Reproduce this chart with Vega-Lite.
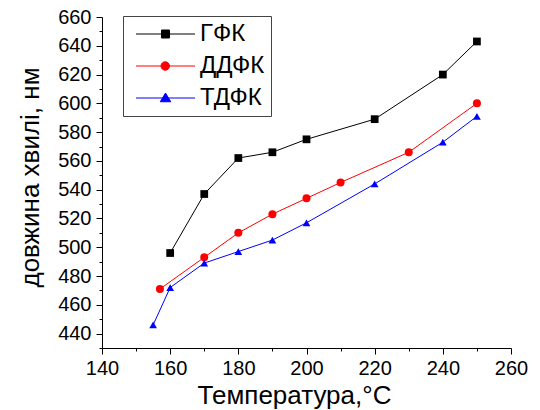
{
  "$schema": "https://vega.github.io/schema/vega-lite/v6.json",
  "autosize": "none",
  "width": 409,
  "height": 331,
  "padding": {"left": 102, "top": 17, "right": 29, "bottom": 62},
  "background": "white",
  "config": {
    "view": {"stroke": null},
    "font": "Liberation Sans",
    "axis": {"grid": false, "domainColor": "black", "tickColor": "black", "labelColor": "black", "titleColor": "black", "labelFont": "Liberation Sans", "titleFont": "Liberation Sans", "titleFontWeight": "normal"}
  },
  "data": {
    "values": [
      {"series": "ГФК", "t": 160, "wl": 496},
      {"series": "ГФК", "t": 170, "wl": 537},
      {"series": "ГФК", "t": 180, "wl": 562},
      {"series": "ГФК", "t": 190, "wl": 566},
      {"series": "ГФК", "t": 200, "wl": 575},
      {"series": "ГФК", "t": 220, "wl": 589},
      {"series": "ГФК", "t": 240, "wl": 620},
      {"series": "ГФК", "t": 250, "wl": 643},
      {"series": "ДДФК", "t": 157, "wl": 471},
      {"series": "ДДФК", "t": 170, "wl": 493},
      {"series": "ДДФК", "t": 180, "wl": 510},
      {"series": "ДДФК", "t": 190, "wl": 523},
      {"series": "ДДФК", "t": 200, "wl": 534},
      {"series": "ДДФК", "t": 210, "wl": 545},
      {"series": "ДДФК", "t": 230, "wl": 566},
      {"series": "ДДФК", "t": 250, "wl": 600},
      {"series": "ТДФК", "t": 155, "wl": 446},
      {"series": "ТДФК", "t": 160, "wl": 472},
      {"series": "ТДФК", "t": 170, "wl": 489},
      {"series": "ТДФК", "t": 180, "wl": 497},
      {"series": "ТДФК", "t": 190, "wl": 505},
      {"series": "ТДФК", "t": 200, "wl": 517},
      {"series": "ТДФК", "t": 220, "wl": 544},
      {"series": "ТДФК", "t": 240, "wl": 573},
      {"series": "ТДФК", "t": 250, "wl": 591}
    ]
  },
  "encoding": {
    "x": {
      "field": "t", "type": "quantitative",
      "scale": {"domain": [140, 260], "nice": false, "zero": false},
      "axis": {
        "title": "Температура,°C", "titleFontSize": 26, "titlePadding": 4, "titleX": 192,
        "values": [140,150,160,170,180,190,200,210,220,230,240,250,260],
        "labelExpr": "datum.value % 20 === 0 ? datum.label : ''",
        "tickSize": {"condition": {"test": "datum.value % 20 === 0", "value": 6}, "value": 3},
        "labelFontSize": 20, "labelPadding": 4, "labelFlush": false
      }
    },
    "y": {
      "field": "wl", "type": "quantitative",
      "scale": {"domain": [430, 660], "nice": false, "zero": false},
      "axis": {
        "title": "довжина хвилі, нм", "titleFontSize": 26, "titlePadding": 14, "titleY": 160,
        "values": [430,440,450,460,470,480,490,500,510,520,530,540,550,560,570,580,590,600,610,620,630,640,650,660],
        "labelExpr": "datum.value % 20 === 0 ? datum.label : ''",
        "tickSize": {"condition": {"test": "datum.value % 20 === 0", "value": 6}, "value": 3},
        "labelFontSize": 20, "labelPadding": 5, "labelFlush": false
      }
    }
  },
  "layer": [
    {
      "mark": {"type": "line", "strokeWidth": 1},
      "encoding": {
        "color": {"field": "series", "type": "nominal", "scale": {"domain": ["ГФК", "ДДФК", "ТДФК"], "range": ["#000000", "#ff0000", "#0000ff"]}}
      }
    },
    {
      "transform": [{"filter": "datum.series === 'ГФК'"}],
      "mark": {"type": "point", "filled": true, "opacity": 1, "size": 60, "shape": "square", "color": "#000000"}
    },
    {
      "transform": [{"filter": "datum.series === 'ДДФК'"}],
      "mark": {"type": "point", "filled": true, "opacity": 1, "size": 64, "shape": "circle", "color": "#ff0000"}
    },
    {
      "transform": [{"filter": "datum.series === 'ТДФК'"}],
      "mark": {"type": "point", "filled": true, "opacity": 1, "size": 60, "shape": "triangle-up", "color": "#0000ff"}
    },
    {
      "transform": [{"filter": "datum.t < 0"}],
      "mark": {"type": "point", "filled": true, "opacity": 1, "size": 100},
      "encoding": {
        "color": {"field": "series", "type": "nominal", "scale": {"domain": ["ГФК", "ДДФК", "ТДФК"], "range": ["#000000", "#ff0000", "#0000ff"]},
          "legend": {
            "title": null, "orient": "none", "legendX": 21, "legendY": -1,
            "symbolSize": 100, "labelFontSize": 24, "labelFont": "Liberation Sans", "labelColor": "black",
            "labelOffset": 47, "rowPadding": 8, "padding": 6,
            "strokeColor": "#444444", "fillColor": "white", "symbolStrokeWidth": 1
          }},
        "stroke": {"field": "series", "type": "nominal", "scale": {"domain": ["ГФК", "ДДФК", "ТДФК"], "range": ["#000000", "#ff0000", "#0000ff"]},
          "legend": {
            "title": null, "orient": "none", "legendX": 21, "legendY": -1,
            "symbolSize": 100, "labelFontSize": 24, "labelFont": "Liberation Sans", "labelColor": "black",
            "labelOffset": 47, "rowPadding": 8, "padding": 6,
            "strokeColor": "#444444", "fillColor": "white", "symbolStrokeWidth": 1
          }},
        "shape": {
          "field": "series", "type": "nominal",
          "scale": {"domain": ["ГФК", "ДДФК", "ТДФК"], "range": [
            "M-1,0H10.8M4.1,-0.8H5.7V0.8H4.1Z",
            "M-1,0H10.8M4,0A0.85,0.85 0 1,0 5.7,0A0.85,0.85 0 1,0 4,0Z",
            "M-1,0H10.8M4.9,-1L5.95,0.75H3.85Z"
          ]},
          "legend": {
            "title": null, "orient": "none", "legendX": 21, "legendY": -1,
            "symbolSize": 100, "labelFontSize": 24, "labelFont": "Liberation Sans", "labelColor": "black",
            "labelOffset": 47, "rowPadding": 8, "padding": 6,
            "strokeColor": "#444444", "fillColor": "white", "symbolStrokeWidth": 1
          }
        }
      }
    }
  ]
}
